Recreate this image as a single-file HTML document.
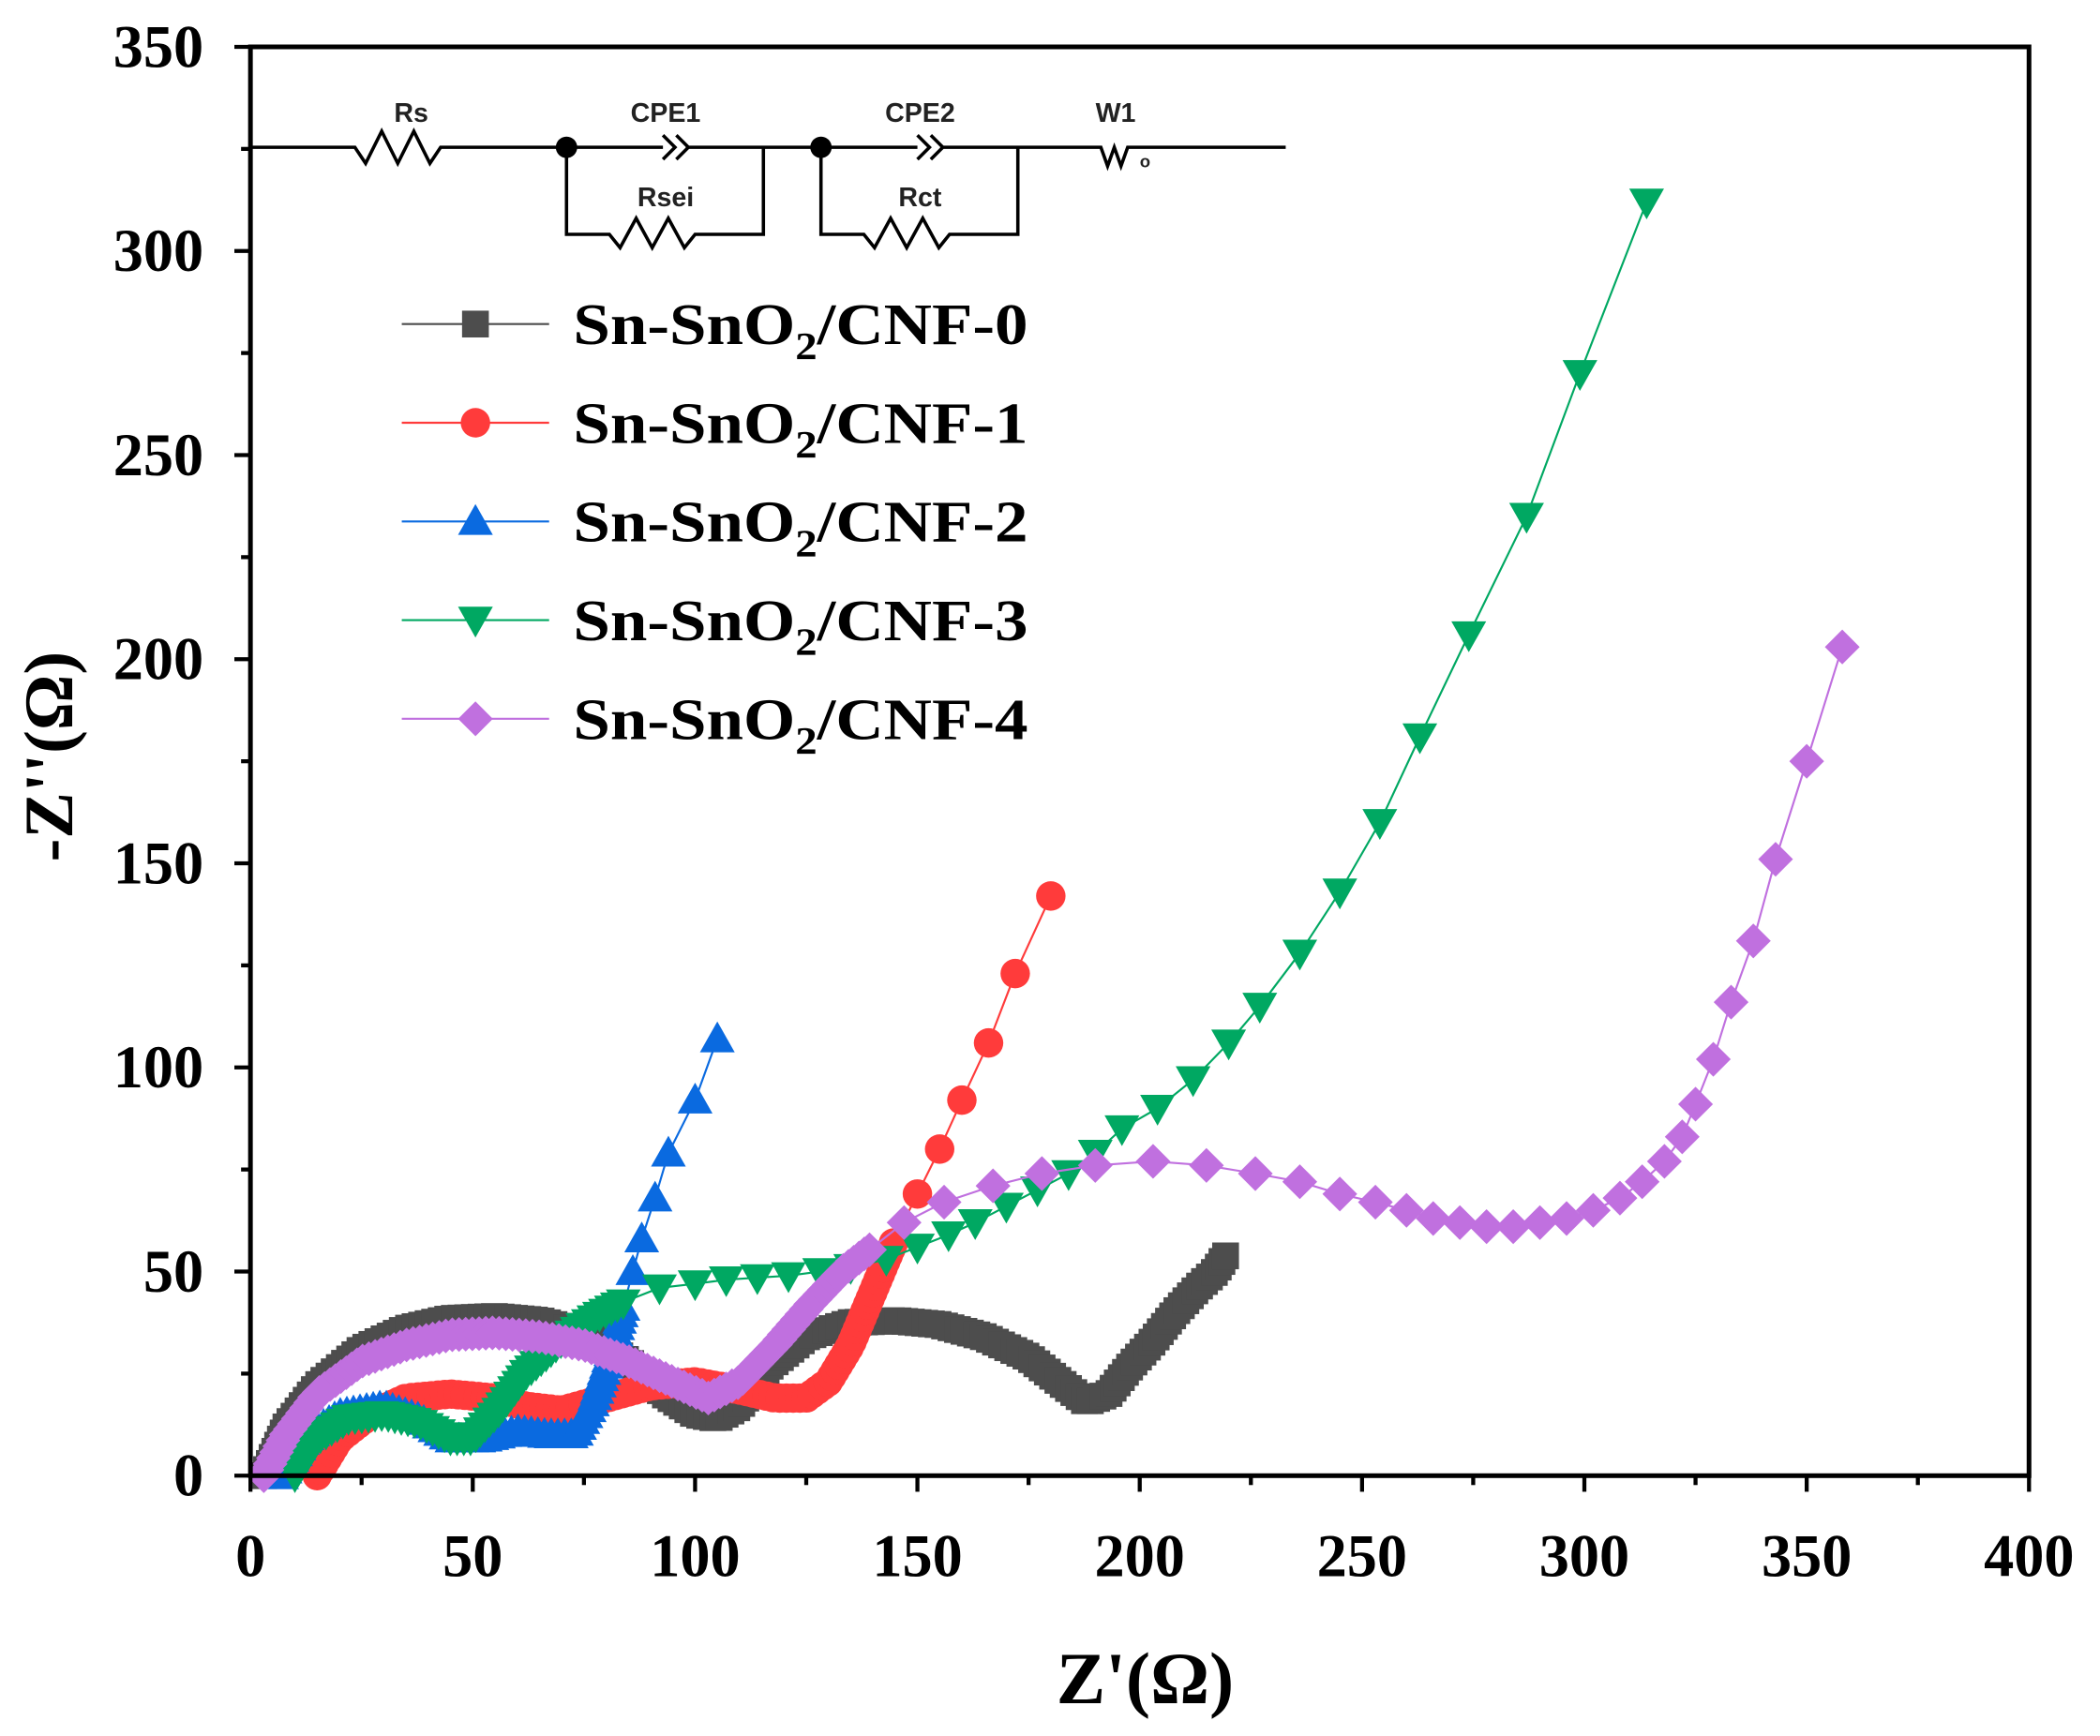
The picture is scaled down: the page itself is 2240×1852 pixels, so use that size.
<!DOCTYPE html>
<html><head><meta charset="utf-8"><style>html,body{margin:0;padding:0;background:#fff}svg{display:block}</style></head>
<body>
<svg id="s" xmlns="http://www.w3.org/2000/svg" width="2240" height="1852" viewBox="0 0 1568 1296.4">
<rect width="1568" height="1296.4" fill="#fff"/>
<g id="data"></g>
<g id="axes" fill="none" stroke="#000" stroke-width="3.5"><rect x="187" y="35" width="1328" height="1067"/></g>
<g id="ticks" stroke="#000" stroke-width="3"></g>
<g font-family="Liberation Serif, serif" font-weight="bold" font-size="45" fill="#000" id="lbl"></g>
<text x="855" y="1272" font-family="Liberation Serif, serif" font-weight="bold" font-size="55" text-anchor="middle">Z'(Ω)</text>
<text transform="translate(54,565) rotate(-90)" font-family="Liberation Serif, serif" font-weight="bold" font-size="52" text-anchor="middle">-Z''(Ω)</text>
<!-- circuit -->
<g fill="none" stroke="#000" stroke-width="2.5">
<path d="M187 110 H265 l8 12 l12 -24 l12 24 l12 -24 l12 24 l8 -12 H495 M495 101 l9 9 l-9 9 M505 101 l9 9 l-9 9 M512 110 H685 M685 101 l9 9 l-9 9 M695 101 l9 9 l-9 9 M702 110 H822 l5 14 l5 -14 l5 14 l5 -14 H960"/>
<path d="M423 110 V175 H455 l8 10 l12 -22 l12 22 l12 -22 l12 22 l8 -10 H570 V110"/>
<path d="M613 110 V175 H645 l8 10 l12 -22 l12 22 l12 -22 l12 22 l8 -10 H760 V110"/>
</g>
<circle cx="423" cy="110" r="8" fill="#000"/><circle cx="613" cy="110" r="8" fill="#000"/>
<g font-family="Liberation Sans, sans-serif" font-weight="bold" font-size="20" fill="#222" text-anchor="middle">
<text x="307" y="91">Rs</text><text x="497" y="91">CPE1</text><text x="497" y="154">Rsei</text>
<text x="687" y="91">CPE2</text><text x="687" y="154">Rct</text><text x="833" y="91">W1</text>
<text x="855" y="125" font-size="13">o</text></g>
<g id="leg"></g>
</svg>
<script>
const NS="http://www.w3.org/2000/svg";
const X=v=>187+v*3.32, Y=v=>1102-v*3.0486;
function el(p,t,a){const e=document.createElementNS(NS,t);for(const k in a)e.setAttribute(k,a[k]);p.appendChild(e);return e;}
const tk=document.getElementById('ticks'),lb=document.getElementById('lbl');
for(let v=0;v<=400;v+=25){const x=X(v),M=v%50==0;el(tk,'line',{x1:x,y1:1102,x2:x,y2:1102+(M?12:7)});
 if(M){const t=el(lb,'text',{x:x,y:1177,'text-anchor':'middle'});t.textContent=v;}}
for(let v=0;v<=350;v+=25){const y=Y(v),M=v%50==0;el(tk,'line',{x1:187,y1:y,x2:187-(M?12:7),y2:y});
 if(M){const t=el(lb,'text',{x:152,y:y+15,'text-anchor':'end'});t.textContent=v;}}
function resample(a,step){const o=[];let px=X(a[0][0]),py=Y(a[0][1]);o.push([px,py]);let acc=0;
 for(let i=1;i<a.length;i++){const x1=X(a[i-1][0]),y1=Y(a[i-1][1]),x2=X(a[i][0]),y2=Y(a[i][1]);const L=Math.hypot(x2-x1,y2-y1);let d=step-acc;
  while(d<=L){o.push([x1+(x2-x1)*d/L,y1+(y2-y1)*d/L]);d+=step;}acc=L-(d-step);}return o;}
function marker(g,t,x,y,c){
 if(t=='s')el(g,'rect',{x:x-10,y:y-10,width:20,height:20,fill:c});
 else if(t=='c')el(g,'circle',{cx:x,cy:y,r:11,fill:c});
 else if(t=='t')el(g,'polygon',{points:`${x},${y-13} ${x-13},${y+10} ${x+13},${y+10}`,fill:c});
 else if(t=='v')el(g,'polygon',{points:`${x},${y+13} ${x-13},${y-10} ${x+13},${y-10}`,fill:c});
 else el(g,'polygon',{points:`${x},${y-13} ${x+13},${y} ${x},${y+13} ${x-13},${y}`,fill:c});}
const S=[
 {c:'#4d4d4d',t:'s',d:[[3,0],[8,12],[15,22],[25,31],[35,36],[45,38.5],[55,39],[65,38],[75,35],[85,28],[93,20],[100,15],[105,14],[110,17],[117,27],[125,34],[135,37.5],[145,38],[155,37],[165,34],[175,29],[182,23],[188,18],[193,20],[198,27],[203,33],[208,40],[213,46],[217,50],[220,55]],sp:[]},
 {c:'#ff3b3b',t:'c',d:[[15,0],[20,9],[27,15],[35,19],[45,20],[55,19],[62,17],[70,16],[80,19],[90,22],[100,23],[110,21],[118,19],[125,19],[130,23],[135,32],[140,45],[145,58]],sp:[[150,69],[155,80],[160,92],[166,106],[172,123],[180,142]]},
 {c:'#0a6ae0',t:'t',d:[[7,0],[12,9],[20,15],[30,17],[38,14],[45,9],[52,9],[60,11],[67,10],[73,10],[77,18],[81,30],[84,42]],sp:[[86,50],[88,58],[91,68],[94,79],[100,92],[105,107]]},
 {c:'#00a862',t:'v',d:[[10,0],[15,9],[22,14],[30,15],[38,13],[45,9],[50,9],[56,16],[62,25],[70,33],[78,39],[85,43]],sp:[[92,46],[100,47],[107,48],[114,48.5],[121,49],[128,50],[135,51],[143,53],[150,56],[157,59],[163,62],[170,66],[177,70],[184,74],[190,79],[196,85],[204,90],[212,97],[220,106],[227,115],[236,128],[245,143],[254,160],[263,181],[274,206],[287,235],[299,270],[314,312]]},
 {c:'#c070df',t:'d',d:[[3,0],[8,10],[15,20],[25,28],[35,32],[45,34.5],[55,35],[65,34],[75,32],[85,28],[95,23],[103,19],[110,23],[118,32],[126,42],[133,50],[140,56]],sp:[[147,62],[156,67],[167,71],[178,74],[190,76],[203,77],[215,76],[226,74],[236,72],[245,69],[253,67],[260,65],[266,63],[272,62],[278,61],[284,61],[290,62],[296,63],[302,65],[308,68],[313,72],[318,77],[322,83],[325,91],[329,102],[333,116],[338,131],[343,151],[350,175],[358,203]]}];
const dg=document.getElementById('data'),lg=document.getElementById('leg');
S.forEach((s,i)=>{const g=el(dg,'g',{});const all=s.d.concat(s.sp);
 el(g,'polyline',{points:all.map(p=>X(p[0])+','+Y(p[1])).join(' '),fill:'none',stroke:s.c,'stroke-width':1.5});
 resample(s.d,5).forEach(p=>marker(g,s.t,p[0],p[1],s.c));
 s.sp.forEach(p=>marker(g,s.t,X(p[0]),Y(p[1]),s.c));
 const y=242+i*73.7;el(lg,'line',{x1:300,y1:y,x2:410,y2:y,stroke:s.c,'stroke-width':1.5});marker(lg,s.t,355,y,s.c);
 const t=el(lg,'text',{x:0,y:0,transform:`translate(428,${y+15}) scale(1.13,1)`,'font-family':'Liberation Serif, serif','font-weight':'bold','font-size':44});
 t.innerHTML='Sn-SnO<tspan dy="11" font-size="29">2</tspan><tspan dy="-11">/CNF-'+i+'</tspan>';});
</script>
</body></html>
